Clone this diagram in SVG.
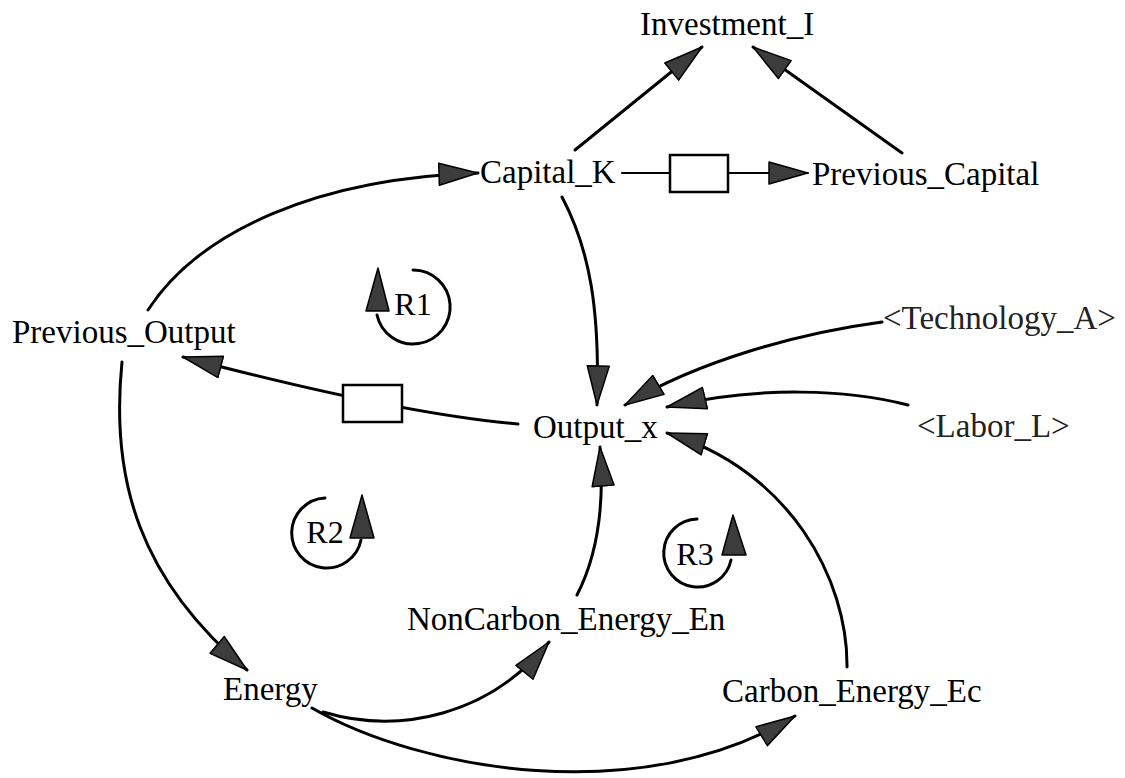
<svg xmlns="http://www.w3.org/2000/svg" width="1125" height="778" viewBox="0 0 1125 778">
<style>
text{font-family:"Liberation Serif","Times New Roman",serif;font-size:33px;fill:#000}
.shadow{fill:#222}
.loop{font-size:32px}
.c{fill:none;stroke:#000;stroke-width:3;stroke-linecap:round}
.thin{stroke-width:2.2}
.box{fill:#fff;stroke:#000;stroke-width:2.5}
.ah{fill:#3c3c3c;stroke:#000;stroke-width:1.5;stroke-linejoin:round}
</style>
<defs>
<marker id="ah" viewBox="0 0 40 24" refX="40" refY="12" markerWidth="40" markerHeight="24" markerUnits="userSpaceOnUse" orient="auto">
<path d="M1,1 L40,12 L1,23 z" fill="#3c3c3c" stroke="#000" stroke-width="1.5" stroke-linejoin="round"/>
</marker>
</defs>
<rect width="1125" height="778" fill="#fff"/>
<g id="connectors">
<path class="c" d="M575,150 L702,47" marker-end="url(#ah)"/>
<path class="c" d="M902,153 L753,47" marker-end="url(#ah)"/>
<path class="c" d="M148,310 C200,230 320,178 478,173" marker-end="url(#ah)"/>
<path class="c thin" d="M622,173 L808,173" marker-end="url(#ah)"/>
<rect class="box" x="670" y="155" width="58" height="37"/>
<path class="c" d="M562,197 C590,250 600,310 597,405" marker-end="url(#ah)"/>
<path class="c" d="M518,424 Q400,414 183,357" marker-end="url(#ah)"/>
<rect class="box" x="343" y="385" width="59" height="37"/>
<path class="c" d="M882,322 C800,333 700,360 625,405" marker-end="url(#ah)"/>
<path class="c" d="M908,405 C850,390 760,385 667,407" marker-end="url(#ah)"/>
<path class="c" d="M847,667 C848,580 790,470 667,433" marker-end="url(#ah)"/>
<path class="c" d="M577,595 C595,560 605,510 600,447" marker-end="url(#ah)"/>
<path class="c" d="M122,362 C110,480 140,580 247,670" marker-end="url(#ah)"/>
<path class="c" d="M323,712 C400,735 490,715 549,642" marker-end="url(#ah)"/>
<path class="c" d="M312,708 C420,770 640,810 795,716" marker-end="url(#ah)"/>
</g>
<g id="Investment_I"><text x="640" y="35">Investment_I</text></g>
<g id="Capital_K"><text x="480" y="183">Capital_K</text></g>
<g id="Previous_Capital"><text x="812" y="185">Previous_Capital</text></g>
<g id="Previous_Output"><text x="12" y="343">Previous_Output</text></g>
<g id="Output_x"><text x="533" y="438">Output_x</text></g>
<g id="Technology_A"><text class="shadow" x="883" y="329">&lt;Technology_A&gt;</text></g>
<g id="Labor_L"><text class="shadow" x="917" y="437">&lt;Labor_L&gt;</text></g>
<g id="NonCarbon_Energy_En"><text x="407" y="630">NonCarbon_Energy_En</text></g>
<g id="Energy"><text x="223" y="700">Energy</text></g>
<g id="Carbon_Energy_Ec"><text x="722" y="702">Carbon_Energy_Ec</text></g>
<g id="loop_R1">
<path class="c" d="M413,270 A37,37 0 1 1 377,315"/>
<polygon class="ah" points="378,268 366,311 389,311"/>
<text class="loop" x="413" y="315" text-anchor="middle">R1</text>
</g>
<g id="loop_R2">
<path class="c" d="M325,498 A35,35 0 1 0 361,540"/>
<polygon class="ah" points="362,495 350,538 374,538"/>
<text class="loop" x="325" y="543" text-anchor="middle">R2</text>
</g>
<g id="loop_R3">
<path class="c" d="M697,519 A34,34 0 1 0 731,560"/>
<polygon class="ah" points="733,515 722,555 746,555"/>
<text class="loop" x="695" y="565" text-anchor="middle">R3</text>
</g>
</svg>
